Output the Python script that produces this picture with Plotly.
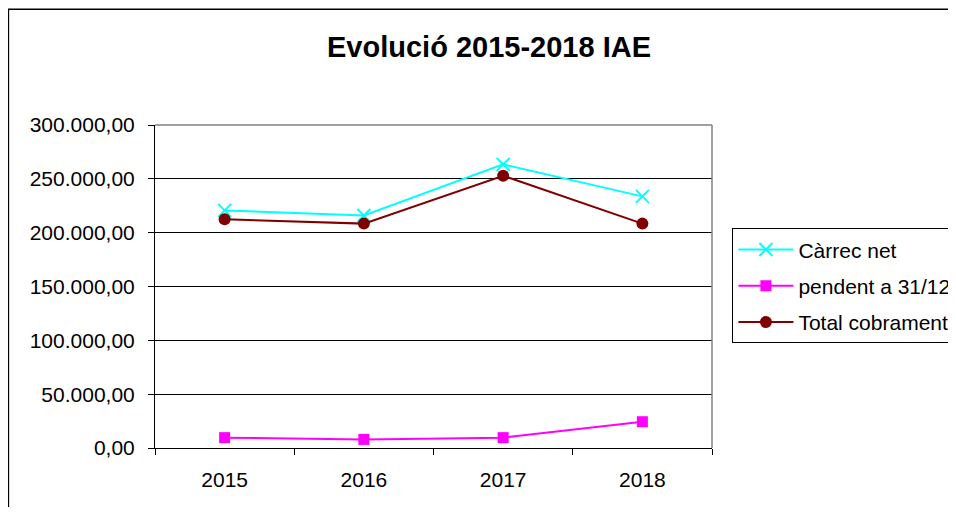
import plotly.graph_objects as go

years = ["2015", "2016", "2017", "2018"]
carrec_net = [220700, 216000, 263400, 233700]
pendent = [9600, 8000, 9600, 24400]
total_cobrament = [212400, 208400, 252900, 208400]
y_ticks = [0, 50000, 100000, 150000, 200000, 250000, 300000]

FONT = "Liberation Sans, Arial, sans-serif"

fig = go.Figure()
fig.add_trace(go.Scatter(x=years, y=carrec_net, name="Càrrec net", mode="lines+markers",
                         line=dict(color="#00FFFF", width=2),
                         marker=dict(symbol="x-thin", size=13, line=dict(color="#00FFFF", width=2)),
                         legendgroup="a"))
fig.add_trace(go.Scatter(x=years, y=pendent, name="pendent a 31/12", mode="lines+markers",
                         line=dict(color="#FF00FF", width=2),
                         marker=dict(symbol="square", size=11, color="#FF00FF"),
                         legendgroup="b"))
fig.add_trace(go.Scatter(x=years, y=total_cobrament, name="Total cobrament", mode="lines+markers",
                         line=dict(color="#800000", width=2),
                         marker=dict(symbol="circle", size=12, color="#800000"),
                         legendgroup="c"))

# the page places the figure at an 8px body margin
OFF = 8
W, H = 948, 499
L, R, T, B = 155 - OFF, 711.6 - OFF, 124.5 - OFF, 448 - OFF
pw, ph = R - L, B - T

def px_x(x):
    return (x - OFF - L) / pw

def px_y(y):
    return (B - (y - OFF)) / ph

fig.update_layout(
    width=W, height=H,
    margin=dict(l=L, r=W - R, t=T, b=H - B, pad=0, autoexpand=False),
    paper_bgcolor="white", plot_bgcolor="white",
    separators=",.",
    font=dict(family=FONT, size=21, color="black"),
    title=dict(text="<b>Evolució 2015-2018 IAE</b>", x=(489 - OFF) / W, xanchor="center",
               y=1 - (47 - OFF) / H, yanchor="middle", font=dict(size=29, family=FONT, color="black")),
    legend=dict(x=px_x(732), y=px_y(228), xanchor="left", yanchor="top",
                bordercolor="black", borderwidth=1, bgcolor="white",
                traceorder="grouped", tracegroupgap=6, itemwidth=55,
                font=dict(size=21, family=FONT, color="black")),
    showlegend=True,
)
fig.update_xaxes(type="category", range=[-0.5, len(years) - 0.5],
                 showgrid=False, showline=True, linecolor="black", linewidth=1,
                 ticks="outside", ticklen=6, tickcolor="black", tickson="boundaries",
                 ticklabelstandoff=13)
fig.update_yaxes(range=[0, 300000], tickvals=y_ticks, tickformat=",.2f",
                 showgrid=True, gridcolor="black", gridwidth=1, zeroline=False,
                 showline=True, linecolor="black", linewidth=1,
                 ticks="outside", ticklen=6, tickcolor="black", ticklabelstandoff=9)

# plot area border (top & right, gray)
fig.add_shape(type="line", xref="paper", yref="paper", x0=0, x1=1, y0=1, y1=1,
              line=dict(color="#808080", width=1.5), layer="above")
fig.add_shape(type="line", xref="paper", yref="paper", x0=1, x1=1, y0=0, y1=1,
              line=dict(color="#808080", width=1.5), layer="above")
# outer chart border
fig.add_shape(type="rect", xref="paper", yref="paper",
              x0=px_x(8.5), x1=px_x(980), y0=px_y(540), y1=px_y(8.5),
              line=dict(color="black", width=1.5), layer="below")

fig.write_html("out.html")
